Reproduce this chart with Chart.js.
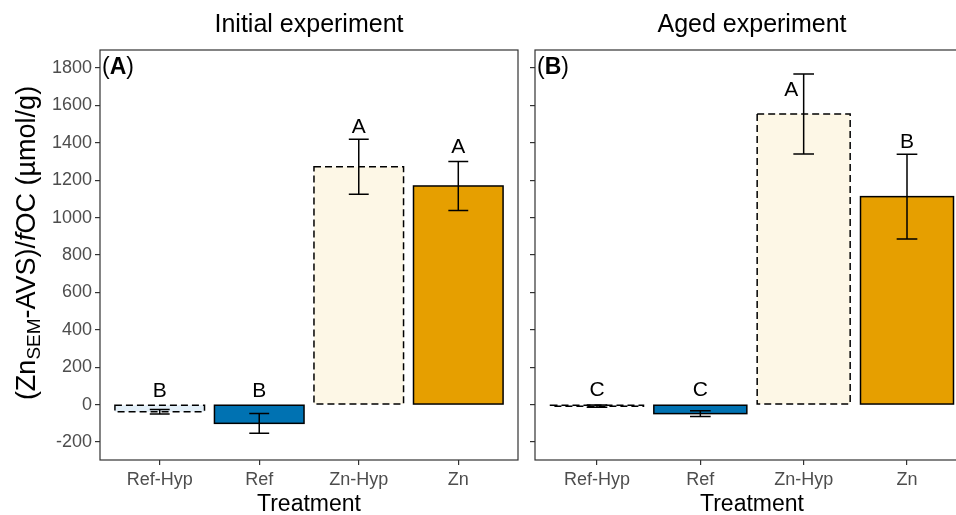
<!DOCTYPE html>
<html>
<head>
<meta charset="utf-8">
<script src="https://cdn.jsdelivr.net/npm/chart.js@4/dist/chart.umd.min.js"></script>
<style>
  body { margin: 0; background: #fff; width: 956px; height: 515px; overflow: hidden; position: relative; }
  canvas { position: absolute; top: 0; }
  #panelA { left: 0; }
  #panelB { left: 520px; }
</style>
</head>
<body>
<canvas id="panelA" width="528" height="515"></canvas>
<canvas id="panelB" width="470" height="515"></canvas>
<script>
var categories = ['Ref-Hyp', 'Ref', 'Zn-Hyp', 'Zn'];
var yTicks = [-200, 0, 200, 400, 600, 800, 1000, 1200, 1400, 1600, 1800];

var initialMean = [-38, -100, 1272, 1169];
var initialErr = [12, 53, 147, 131];
var initialLetters = ['B', 'B', 'A', 'A'];
var initialLetterY = [74, 74, 1484, 1378];
var initialLetterX = [1, 2, 3, 4];

var agedMean = [-8, -48, 1554, 1112];
var agedErr = [6, 15, 214, 226];
var agedLetters = ['C', 'C', 'A', 'B'];
var agedLetterY = [78, 78, 1682, 1404];
var agedLetterX = [1, 2, 2.88, 4];

var fills = ['#e3eff8', '#0072B2', '#fdf7e6', '#E69F00'];
var dashed = [true, false, true, false];

var FONT = '"Liberation Sans", Arial, sans-serif';
Chart.defaults.font.family = FONT;

// outlines, error bars, letters, box and texts
var decorate = {
  id: 'decorate',
  afterDatasetsDraw: function(chart) {
    var ctx = chart.ctx, p = chart.options.plugins.decorate;
    var xs = chart.scales.x, ys = chart.scales.y;
    var meta = chart.getDatasetMeta(0);
    ctx.save();
    ctx.strokeStyle = '#000';
    ctx.lineWidth = 1.5;
    meta.data.forEach(function(bar, i) {
      var b = bar.getProps(['x', 'y', 'base', 'width'], true);
      ctx.setLineDash(dashed[i] ? [7, 4] : []);
      ctx.strokeRect(b.x - b.width / 2, Math.min(b.y, b.base), b.width, Math.abs(b.base - b.y));
    });
    ctx.setLineDash([]);
    p.mean.forEach(function(m, i) {
      var xc = xs.getPixelForValue(i + 1);
      var xl = xs.getPixelForValue(i + 0.9), xr = xs.getPixelForValue(i + 1.1);
      var yt = ys.getPixelForValue(m + p.err[i]), yb = ys.getPixelForValue(m - p.err[i]);
      ctx.beginPath();
      ctx.moveTo(xc, yt); ctx.lineTo(xc, yb);
      ctx.moveTo(xl, yt); ctx.lineTo(xr, yt);
      ctx.moveTo(xl, yb); ctx.lineTo(xr, yb);
      ctx.stroke();
    });
    ctx.fillStyle = '#000';
    ctx.font = '21px ' + FONT;
    ctx.textAlign = 'center';
    ctx.textBaseline = 'middle';
    p.letters.forEach(function(l, i) {
      ctx.fillText(l, xs.getPixelForValue(p.letterX[i]), ys.getPixelForValue(p.letterY[i]));
    });
    ctx.restore();
  },
  afterDraw: function(chart) {
    var ctx = chart.ctx, p = chart.options.plugins.decorate, ca = chart.chartArea;
    ctx.save();
    ctx.strokeStyle = '#333';
    ctx.lineWidth = 1.2;
    ctx.strokeRect(ca.left, ca.top, ca.right - ca.left, ca.bottom - ca.top);
    ctx.fillStyle = '#000';
    ctx.textBaseline = 'middle';
    ctx.textAlign = 'center';
    ctx.font = '25px ' + FONT;
    ctx.fillText(p.title, (ca.left + ca.right) / 2, 25);
    ctx.font = '23px ' + FONT;
    ctx.fillText('Treatment', (ca.left + ca.right) / 2, 505);
    // panel tag
    ctx.textAlign = 'left';
    var x = ca.left + 2, y = ca.top + 18;
    ctx.font = '23px ' + FONT;
    ctx.fillText('(', x, y); x += ctx.measureText('(').width;
    ctx.font = 'bold 23px ' + FONT;
    ctx.fillText(p.tag, x, y); x += ctx.measureText(p.tag).width;
    ctx.font = '23px ' + FONT;
    ctx.fillText(')', x, y);
    if (p.yTitle) drawYTitle(ctx, 35, 243);
    ctx.restore();
  }
};

function drawYTitle(ctx, bx, cy) {
  var segs = [
    { t: '(Zn', f: '27px ' + FONT, dy: 0 },
    { t: 'SEM', f: '19px ' + FONT, dy: 5 },
    { t: '-AVS)/', f: '27px ' + FONT, dy: 0 },
    { t: 'f', f: 'italic 27px ' + FONT, dy: 0 },
    { t: 'OC (\u00b5mol/g)', f: '27px ' + FONT, dy: 0 }
  ];
  var total = 0;
  segs.forEach(function(s) { ctx.font = s.f; s.w = ctx.measureText(s.t).width; total += s.w; });
  ctx.save();
  ctx.translate(bx, cy);
  ctx.rotate(-Math.PI / 2);
  ctx.textAlign = 'left';
  ctx.textBaseline = 'alphabetic';
  var x = -total / 2;
  segs.forEach(function(s) { ctx.font = s.f; ctx.fillText(s.t, x, s.dy); x += s.w; });
  ctx.restore();
}

function makePanel(id, mean, err, letters, letterY, letterX, title, tag, first, padRight, yWidth) {
  new Chart(document.getElementById(id), {
    type: 'bar',
    data: {
      datasets: [{
        data: mean.map(function(v, i) { return { x: i + 1, y: v }; }),
        backgroundColor: fills,
        borderWidth: 0,
        barPercentage: 0.9,
        categoryPercentage: 1
      }]
    },
    options: {
      responsive: false,
      animation: false,
      layout: { padding: { top: 50, right: padRight, left: 0, bottom: 0 } },
      plugins: {
        legend: { display: false },
        tooltip: { enabled: false },
        decorate: { mean: mean, err: err, letters: letters, letterY: letterY, letterX: letterX,
                    title: title, tag: tag, yTitle: first }
      },
      scales: {
        x: {
          type: 'linear', min: 0.4, max: 4.6, offset: false,
          afterBuildTicks: function(s) { s.ticks = [1, 2, 3, 4].map(function(v) { return { value: v }; }); },
          afterFit: function(s) { s.height = 55; },
          grid: { offset: false, drawOnChartArea: false, drawTicks: true, tickLength: 5, color: '#333', lineWidth: 1.2 },
          border: { display: false },
          ticks: { color: '#4d4d4d', font: { size: 18 }, padding: 4, maxRotation: 0,
                   callback: function(v) { return categories[v - 1]; } }
        },
        y: {
          min: -296, max: 1896,
          afterBuildTicks: function(s) { s.ticks = yTicks.map(function(v) { return { value: v }; }); },
          afterFit: function(s) { s.width = yWidth; },
          grid: { drawOnChartArea: false, drawTicks: true, tickLength: 5, color: '#333', lineWidth: 1.2 },
          border: { display: false },
          ticks: { display: first, color: '#4d4d4d', font: { size: 18 }, padding: 3,
                   callback: function(v) { return String(v); } }
        }
      }
    },
    plugins: [decorate]
  });
}

makePanel('panelA', initialMean, initialErr, initialLetters, initialLetterY, initialLetterX,
          'Initial experiment', 'A', true, 10, 100);
makePanel('panelB', agedMean, agedErr, agedLetters, agedLetterY, agedLetterX,
          'Aged experiment', 'B', false, 21, 15);
</script>
</body>
</html>
